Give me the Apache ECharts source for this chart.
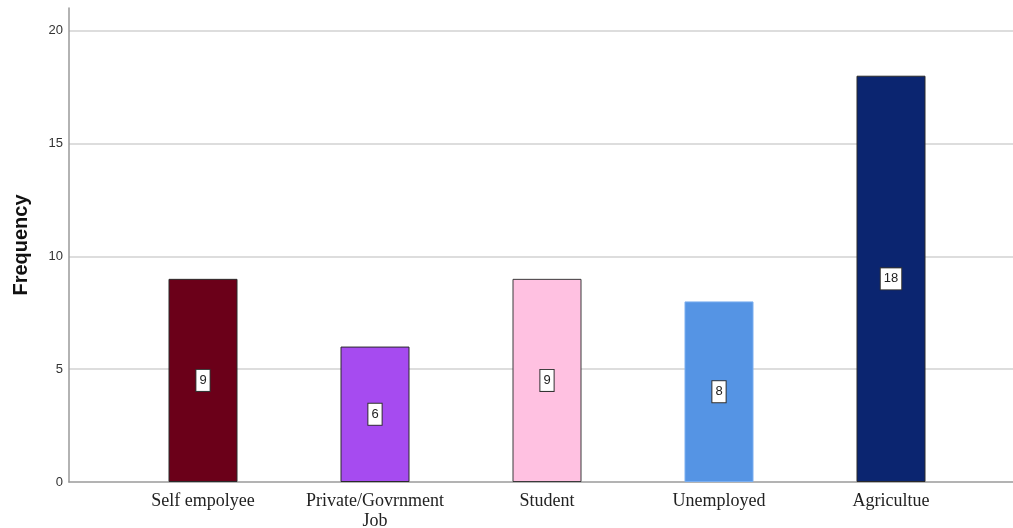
<!DOCTYPE html>
<html>
<head>
<meta charset="utf-8">
<script src="https://cdn.jsdelivr.net/npm/echarts@6/dist/echarts.min.js"></script>
<style>
  html, body { margin: 0; padding: 0; background: #ffffff; }
  #chart { width: 1013px; height: 528px; }
</style>
</head>
<body>
<div id="chart"></div>
<script>
// Occupation frequencies
const categories = ['Self empolyee', 'Private/Govrnment\nJob', 'Student', 'Unemployed', 'Agricultue'];
const frequencies = [9, 6, 9, 8, 18];
const barColors = ['#6b0019', '#a64bf0', '#ffc1e1', '#5594e4', '#0b2570'];
const barBorders = ['#2a2a2a', '#2a2a2a', '#3a3a3a', '#7aaef0', '#2a2a2a'];
const yTicks = [0, 5, 10, 15, 20];

const chart = echarts.init(document.getElementById('chart'));

chart.setOption({
  animation: false,
  backgroundColor: '#ffffff',
  grid: [
    // frame: y axis, gridlines and baseline across the full width
    { left: 69, right: 0, top: 8, bottom: 46, containLabel: false, outerBoundsMode: 'none' },
    // bars sit in an inset band
    { left: 117, right: 36, top: 8, bottom: 46, containLabel: false, outerBoundsMode: 'none' }
  ],
  xAxis: [
    {
      type: 'value', gridIndex: 0, min: 0, max: 1,
      axisLine: { show: true, lineStyle: { color: '#9a9a9a', width: 1.5 } },
      axisTick: { show: false }, axisLabel: { show: false }, splitLine: { show: false }
    },
    {
      type: 'category', gridIndex: 1, data: categories,
      axisLine: { show: false }, axisTick: { show: false },
      axisLabel: {
        margin: 9, color: '#222', fontSize: 18, lineHeight: 20,
        fontFamily: '"Liberation Serif", "Times New Roman", serif', interval: 0
      }
    }
  ],
  yAxis: [
    {
      type: 'value', gridIndex: 0, min: 0, max: 21, interval: 5,
      name: 'Frequency', nameLocation: 'middle', nameRotate: 90, nameGap: 38,
      nameTextStyle: { fontSize: 20, fontWeight: 'bold', color: '#111', fontFamily: 'Arial, "Liberation Sans", sans-serif' },
      axisLine: { show: true, lineStyle: { color: '#9a9a9a', width: 1.5 } },
      axisTick: { show: false },
      axisLabel: {
        margin: 6, color: '#333', fontSize: 13, fontFamily: 'Arial, "Liberation Sans", sans-serif',
        showMaxLabel: false,
        formatter: v => (yTicks.indexOf(v) >= 0 ? String(v) : '')
      },
      splitLine: { show: true, showMinLine: false, showMaxLine: false, lineStyle: { color: '#d2d2d2', width: 1.5 } }
    },
    {
      type: 'value', gridIndex: 1, min: 0, max: 21, interval: 5, show: false,
      splitLine: { show: false }
    }
  ],
  series: [
    {
      type: 'bar', xAxisIndex: 1, yAxisIndex: 1, barWidth: 69,
      data: frequencies.map((v, i) => ({
        value: v,
        itemStyle: { color: barColors[i], borderColor: barBorders[i], borderWidth: 1 }
      })),
      label: {
        show: true, position: 'inside', color: '#222', fontSize: 13, lineHeight: 15,
        fontFamily: 'Arial, "Liberation Sans", sans-serif',
        backgroundColor: '#ffffff', borderColor: '#333', borderWidth: 1,
        padding: [3, 3, 3, 3]
      }
    }
  ]
});
</script>
</body>
</html>
